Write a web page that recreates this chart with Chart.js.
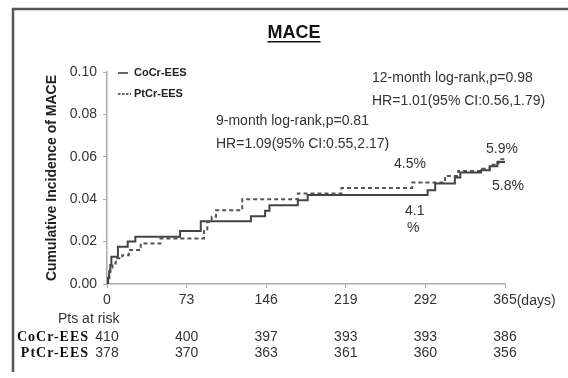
<!DOCTYPE html>
<html>
<head>
<meta charset="utf-8">
<script src="https://cdn.jsdelivr.net/npm/chart.js@4.4.1/dist/chart.umd.min.js"></script>
<style>
  html, body { margin: 0; padding: 0; background: #fff; }
</style>
</head>
<body>
<canvas id="maceChart" width="568" height="378"></canvas>
<script>
// KM steps: day of event, cumulative incidence after it
const cocrDays = [0, 1, 2, 3, 4, 10, 19, 26, 67, 86, 132, 145, 149, 175, 184, 294, 301, 319, 324, 343, 351, 358, 365];
const cocrRisk = [0, 0.003, 0.006, 0.009, 0.0128, 0.0176, 0.020, 0.0223, 0.025, 0.0296, 0.032, 0.0345, 0.0372, 0.0395, 0.042, 0.0442, 0.0474, 0.0502, 0.0526, 0.0536, 0.0555, 0.0576, 0.0576];
const ptcrDays = [0, 1, 2, 3, 5, 8, 14, 20, 31, 49, 89, 92, 96, 100, 124, 175, 215, 280, 310, 322, 344, 351, 359, 365];
const ptcrRisk = [0, 0.002, 0.004, 0.0066, 0.0097, 0.0121, 0.0136, 0.016, 0.0191, 0.0215, 0.0257, 0.0293, 0.0317, 0.0348, 0.040, 0.0427, 0.0453, 0.0479, 0.051, 0.0533, 0.0544, 0.0563, 0.0588, 0.0588];

const tickDays = [0, 73, 146, 219, 292, 365];
const cocrAtRisk = [410, 400, 397, 393, 393, 386];
const ptcrAtRisk = [378, 370, 363, 361, 360, 356];
const seriesNames = ["CoCr-EES", "PtCr-EES"];

const SANS = "'Liberation Sans', Arial, sans-serif";
const SERIF = "'Liberation Serif', 'Times New Roman', serif";
Chart.defaults.font.family = SANS;

const toPoints = (xs, ys) => xs.map((x, i) => ({ x: x, y: ys[i] }));

// frame, titles, notes and the risk table
const decorPlugin = {
  id: "decor",
  afterDraw(chart) {
    const ctx = chart.ctx;
    const xs = chart.scales.x;
    ctx.save();

    // outer frame (left + top only)
    ctx.strokeStyle = "#555";
    ctx.lineWidth = 2.5;
    ctx.beginPath();
    ctx.moveTo(568, 9);
    ctx.lineTo(13, 9);
    ctx.lineTo(13, 372);
    ctx.stroke();

    // title
    ctx.fillStyle = "#111";
    ctx.font = "bold 18px " + SANS;
    ctx.textAlign = "center";
    ctx.textBaseline = "middle";
    ctx.fillText("MACE", 294, 33);
    const tw = ctx.measureText("MACE").width;
    ctx.fillRect(294 - tw / 2, 41, tw, 1.5);

    // y title
    ctx.save();
    ctx.translate(52, 178);
    ctx.rotate(-Math.PI / 2);
    ctx.font = "bold 14px " + SANS;
    ctx.fillStyle = "#222";
    ctx.fillText("Cumulative Incidence of MACE", 0, 0);
    ctx.restore();

    // legend
    ctx.strokeStyle = "#333";
    ctx.lineWidth = 1.5;
    ctx.beginPath();
    ctx.moveTo(118, 73);
    ctx.lineTo(128, 73);
    ctx.stroke();
    ctx.setLineDash([2.5, 1.5]);
    ctx.beginPath();
    ctx.moveTo(118, 94);
    ctx.lineTo(131, 94);
    ctx.stroke();
    ctx.setLineDash([]);
    ctx.font = "bold 11px " + SANS;
    ctx.textAlign = "left";
    ctx.fillStyle = "#222";
    ctx.fillText(seriesNames[0], 134, 73);
    ctx.fillText(seriesNames[1], 134, 94);

    // notes
    ctx.font = "14px " + SANS;
    ctx.fillStyle = "#333";
    ctx.fillText("12-month log-rank,p=0.98", 372, 78);
    ctx.fillText("HR=1.01(95% CI:0.56,1.79)", 372, 101);
    ctx.fillText("9-month log-rank,p=0.81", 216, 121);
    ctx.fillText("HR=1.09(95% CI:0.55,2.17)", 216, 144);
    ctx.fillText("4.5%", 394, 164);
    ctx.fillText("5.9%", 486, 149);
    ctx.fillText("5.8%", 492, 186);
    ctx.fillText("4.1", 405, 211);
    ctx.fillText("%", 407, 228);

    // "(days)" after the last tick label
    const lastX = xs.getPixelForValue(tickDays[tickDays.length - 1]);
    const halfW = ctx.measureText(String(tickDays[tickDays.length - 1])).width / 2;
    ctx.fillText("(days)", lastX + halfW, 301);

    // patients at risk
    ctx.font = "14px " + SANS;
    ctx.fillText("Pts at risk", 58, 319);
    ctx.font = "bold 14px " + SERIF;
    ctx.textAlign = "right";
    ctx.fillStyle = "#111";
    ctx.letterSpacing = "1px";
    ctx.fillText(seriesNames[0], 89, 337);
    ctx.fillText(seriesNames[1], 89, 353);
    ctx.letterSpacing = "0px";
    ctx.font = "14px " + SANS;
    ctx.textAlign = "center";
    ctx.fillStyle = "#333";
    tickDays.forEach((d, i) => {
      const px = xs.getPixelForValue(d);
      ctx.fillText(String(cocrAtRisk[i]), px, 337);
      ctx.fillText(String(ptcrAtRisk[i]), px, 353);
    });

    ctx.restore();
  },
};

const mace_ctx = document.getElementById("maceChart").getContext("2d");

new Chart(mace_ctx, {
  type: "line",
  data: {
    datasets: [
      {
        label: seriesNames[0],
        data: toPoints(cocrDays, cocrRisk),
        borderColor: "#444",
        borderWidth: 2,
        stepped: true,
        pointRadius: 0,
        fill: false,
      },
      {
        label: seriesNames[1],
        data: toPoints(ptcrDays, ptcrRisk),
        borderColor: "#555",
        borderWidth: 2,
        borderDash: [4, 3],
        stepped: true,
        pointRadius: 0,
        fill: false,
      },
    ],
  },
  options: {
    responsive: false,
    animation: false,
    layout: { padding: { left: 67, right: 63, top: 72, bottom: 74 } },
    plugins: {
      title: { display: false },
      legend: { display: false },
      tooltip: { enabled: false },
    },
    scales: {
      x: {
        type: "linear",
        min: 0,
        max: 365,
        afterBuildTicks: (scale) => {
          scale.ticks = tickDays.map((v) => ({ value: v }));
        },
        afterFit: (scale) => {
          scale.height = 20;
        },
        border: { color: "#aaa", width: 1.5 },
        grid: { drawOnChartArea: false, tickLength: 4, color: "#aaa" },
        ticks: {
          padding: 4,
          color: "#333",
          font: { size: 14 },
          maxRotation: 0,
          autoSkip: false,
        },
      },
      y: {
        min: 0,
        max: 0.1,
        afterFit: (scale) => {
          scale.width = 40;
        },
        border: { color: "#aaa", width: 1.5 },
        grid: { drawOnChartArea: false, tickLength: 4, color: "#aaa" },
        ticks: {
          stepSize: 0.02,
          padding: 6,
          color: "#333",
          font: { size: 14 },
          callback: (v) => v.toFixed(2),
        },
      },
    },
  },
  plugins: [decorPlugin],
});
</script>
</body>
</html>
